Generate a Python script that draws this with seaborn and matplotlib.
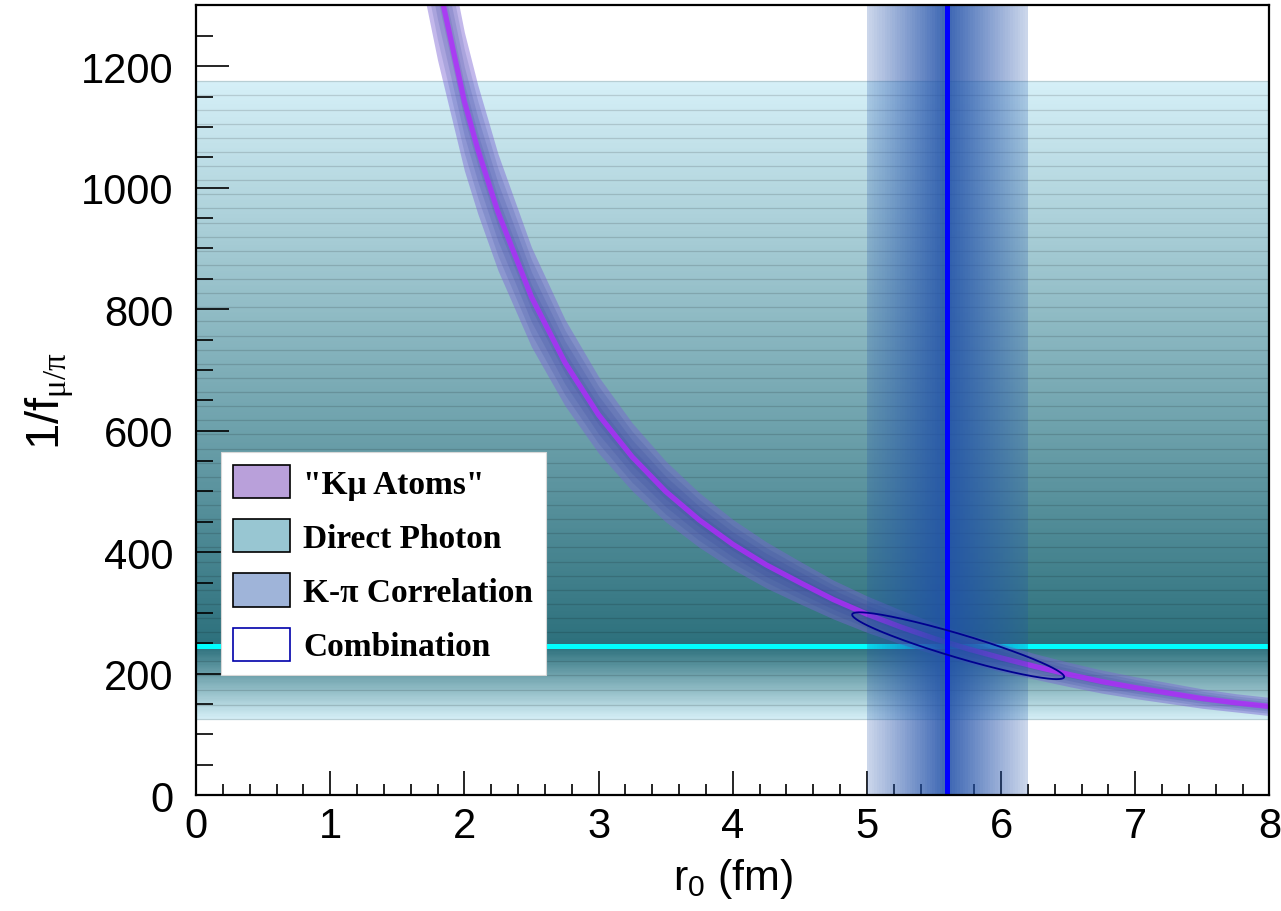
import numpy as np
import pandas as pd
import matplotlib
matplotlib.use("Agg")
import matplotlib.pyplot as plt
from matplotlib.patches import Patch
from matplotlib.ticker import MultipleLocator
from matplotlib.colors import LinearSegmentedColormap
import seaborn as sns

# ---------------- data ----------------
# "K mu atoms" constraint: central curve and its band
kmu_r = [1.70, 1.80, 1.90, 2.00, 2.10, 2.25, 2.50, 2.75, 3.00, 3.25, 3.50, 3.75,
         4.00, 4.25, 4.50, 4.75, 5.00, 5.25, 5.50, 5.75, 6.00, 6.25, 6.50, 6.75,
         7.00, 7.25, 7.50, 7.75, 8.00]
kmu_y = [1464, 1344, 1243, 1142, 1063, 960, 820, 712, 626, 557, 500, 453,
         413, 379, 350, 322, 298, 277, 258, 241, 226, 212, 199, 187,
         177, 168, 159, 152, 146]
kmu_lo = [1318, 1210, 1119, 1028, 957, 864, 738, 641, 563, 501, 450, 408,
          372, 341, 315, 290, 268, 249, 232, 217, 203, 191, 179, 168,
          159, 151, 143, 137, 131]
kmu_hi = [1610, 1478, 1367, 1256, 1169, 1056, 902, 783, 689, 613, 550, 498,
          454, 417, 385, 354, 328, 305, 284, 265, 249, 233, 219, 206,
          195, 185, 175, 167, 161]

# Direct photon: horizontal band (central value, lower, upper)
photon_center = 245
photon_lo = 125
photon_hi = 1175

# K-pi correlation: vertical band
kpi_center = 5.6
kpi_lo = 5.0
kpi_hi = 6.2

# Combination: 1-sigma ellipse
comb_cx, comb_cy = 5.68, 246
comb_sx, comb_sy = 0.79, 55
comb_rho = -0.93

legend_labels = ['"K\u03bc Atoms"', "Direct Photon", "K-\u03c0 Correlation", "Combination"]

# ---------------- style ----------------
sns.set_theme(style="ticks")
plt.rcParams["font.family"] = ["Liberation Sans", "DejaVu Sans"]
plt.rcParams["mathtext.fontset"] = "custom"
plt.rcParams["mathtext.rm"] = "Liberation Serif"
plt.rcParams["mathtext.sf"] = "Liberation Sans"
for k in ["text.color", "axes.labelcolor", "xtick.color", "ytick.color", "axes.edgecolor"]:
    plt.rcParams[k] = "black"

fig = plt.figure(figsize=(12.81, 9.12), dpi=100)
ax = fig.add_axes([0.153, 0.127, 0.838, 0.866])
ax.set_xlim(0, 8)
ax.set_ylim(0, 1300)
ax.set_facecolor("white")


def mix(c0, c1, f):
    c0 = np.array(matplotlib.colors.to_rgb(c0))
    c1 = np.array(matplotlib.colors.to_rgb(c1))
    return tuple(c0 * (1 - f) + c1 * f)


# ---- Direct photon horizontal band: smooth gradient + slice lines ----
dark_teal = "#2c707c"
light_teal = "#d5eff7"
teal_cmap = LinearSegmentedColormap.from_list("teal", [dark_teal, light_teal])
n_up, n_dn = 400, 60
edges_up = np.linspace(photon_center, photon_hi, n_up + 1)
edges_dn = np.linspace(photon_lo, photon_center, n_dn + 1)
f_up = (np.arange(n_up) + 0.5) / n_up
f_dn = 1 - (np.arange(n_dn) + 0.5) / n_dn
yedges = np.concatenate([edges_dn, edges_up[1:]])
fvals = np.concatenate([f_dn, f_up])
ax.pcolormesh([0, 8], yedges, fvals[:, None], cmap=teal_cmap, vmin=0, vmax=1,
              shading="flat", zorder=1)
line_up = np.linspace(photon_center, photon_hi, 41)[1:]
line_dn = np.linspace(photon_lo, photon_center, 6)[:-1]
for yl in line_up:
    f = (yl - photon_center) / (photon_hi - photon_center)
    ax.axhline(yl, color=tuple(np.array(mix(dark_teal, light_teal, f)) * 0.86), lw=0.9, zorder=1.1)
for yl in line_dn:
    f = (photon_center - yl) / (photon_center - photon_lo)
    ax.axhline(yl, color=tuple(np.array(mix(dark_teal, light_teal, f)) * 0.86), lw=0.9, zorder=1.1)
ax.axhline(photon_center, color="#00ffff", lw=3.6, zorder=1.5)

# ---- K mu atoms band + curve ----
r = np.array(kmu_r)
yc = np.array(kmu_y)
ylo = np.array(kmu_lo)
yhi = np.array(kmu_hi)
ax.fill_between(r, ylo, yhi, color="#7a62d4", alpha=0.45, lw=0, zorder=2)
for frac, a in [(0.75, 0.16), (0.5, 0.16), (0.25, 0.14)]:
    ax.fill_between(r, yc - (yc - ylo) * frac, yc + (yhi - yc) * frac,
                    color="#2c4098", alpha=a, lw=0, zorder=2.1)
df_kmu = pd.DataFrame({"r0": kmu_r, "inv_f": kmu_y})
sns.lineplot(data=df_kmu, x="r0", y="inv_f", ax=ax, color="#b428ff", alpha=0.78,
             lw=3.8, zorder=2.5, sort=False)

# ---- K-pi vertical band ----
n_v = 32
xe_l = np.linspace(kpi_lo, kpi_center, n_v + 1)
xe_r = np.linspace(kpi_center, kpi_hi, n_v + 1)
for i in range(n_v):
    a_l = 0.22 + 0.66 * (i + 0.5) / n_v
    ax.axvspan(xe_l[i], xe_l[i + 1], color="#1f4fa8", alpha=a_l, lw=0, zorder=3)
    a_r = 0.88 - 0.66 * (i + 0.5) / n_v
    ax.axvspan(xe_r[i], xe_r[i + 1], color="#1f4fa8", alpha=a_r, lw=0, zorder=3)
ax.axvline(kpi_center, color="#0000ff", lw=3.6, zorder=3.5)

# ---- combination ellipse ----
t = np.linspace(0, 2 * np.pi, 400)
ex = comb_cx + comb_sx * np.cos(t)
ey = comb_cy + comb_sy * (comb_rho * np.cos(t) + np.sqrt(1 - comb_rho ** 2) * np.sin(t))
ax.plot(ex, ey, color="#00008f", lw=1.3, zorder=4)

# ---------------- axes ----------------
for s in ax.spines.values():
    s.set_linewidth(1.6)
    s.set_color("black")
    s.set_zorder(6)
ax.xaxis.set_major_locator(MultipleLocator(1))
ax.xaxis.set_minor_locator(MultipleLocator(0.2))
ax.yaxis.set_major_locator(MultipleLocator(200))
ax.yaxis.set_minor_locator(MultipleLocator(50))
ax.tick_params(axis="both", which="both", direction="in", top=False, right=False,
               colors="black", width=1.2, zorder=6)
ax.tick_params(axis="x", which="major", length=17, labelsize=30, pad=8)
ax.tick_params(axis="x", which="minor", length=8)
ax.tick_params(axis="y", which="major", length=24, labelsize=30, pad=16)
ax.tick_params(axis="y", which="minor", length=12)
ax.set_axisbelow(False)

ax.set_xlabel("r$_\\mathsf{0}$ (fm)", fontsize=31, labelpad=7)
ax.set_ylabel("1/f$_{\\mathrm{\u03bc/\u03c0}}$", fontsize=34, labelpad=4)

# ---------------- legend ----------------
handles = [
    Patch(facecolor="#b9a0da", edgecolor="black", lw=1.2),
    Patch(facecolor="#98c6d2", edgecolor="black", lw=1.2),
    Patch(facecolor="#9fb4d9", edgecolor="black", lw=1.2),
    Patch(facecolor="white", edgecolor="#0000aa", lw=1.2),
]
leg = ax.legend(handles, legend_labels, loc="lower left",
                bbox_to_anchor=(0.023, 0.152), borderaxespad=0,
                prop={"family": "Liberation Serif", "weight": "bold", "size": 24},
                handlelength=1.7, handleheight=1.15, handletextpad=0.4,
                labelspacing=0.58, borderpad=0.38, fancybox=False,
                framealpha=1, facecolor="white", edgecolor="#d8d8d8")
leg.get_frame().set_linewidth(0.8)
leg.set_zorder(10)

fig.savefig("out.png", dpi=100)
